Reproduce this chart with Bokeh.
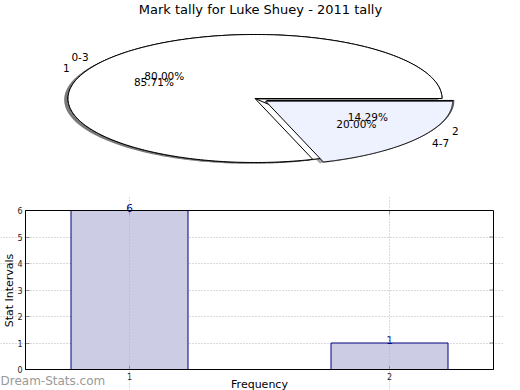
import numpy as np
from bokeh.plotting import figure
from bokeh.models import Range1d, Label, LabelSet, FixedTicker, ColumnDataSource, BoxAnnotation
from bokeh.layouts import column
from bokeh.embed import file_html
from bokeh.resources import INLINE
from bokeh.core.properties import value

# ---------------- data ----------------
title_text = "Mark tally for Luke Shuey - 2011 tally"
pie1_labels = ["0-3", "4-7"]
pie1_values = [4, 1]
pie2_labels = ["1", "2"]
pie2_values = [6, 1]
slice_colors = ["#ffffff", "#eef2ff"]
explode = [0.0, 0.07]

bar_x = [1, 2]
bar_values = [6, 1]
x_ticks = [1, 2]
y_ticks = [0, 1, 2, 3, 4, 5, 6]
grid_y = [1, 2, 3, 4, 5]
x_lim = (0.6, 2.4)
y_lim = (0, 6)
x_label = "Frequency"
y_label = "Stat Intervals"
watermark = "Dream-Stats.com"

FONT = "DejaVu Sans"

# ---------------- layout constants (px) ----------------
W = 504
PIE_H = 196
BAR_H = 194
RX = 187.0                    # pie: px per data unit (x)
RY = 64.0                     # pie: px per data unit (y)
CX = 254.5                    # pie centre
CY = 98.0
BOX_L, BOX_R = 25, 493        # bar chart box, page px
BOX_T, BOX_B = 210, 369

# ---------------- pie ----------------
pie = figure(width=W, height=PIE_H, output_backend="svg", toolbar_location=None,
             x_range=Range1d(-CX / RX, (W - CX) / RX),
             y_range=Range1d(-(PIE_H - CY) / RY, CY / RY),
             x_axis_location=None, y_axis_location=None,
             min_border=0, outline_line_color=None)
pie.grid.visible = False


def wedge_geometry(values, expl):
    vals = np.asarray(values, dtype=float)
    frac = vals / vals.sum()
    bounds = np.concatenate([[0.0], np.cumsum(frac)]) * 2 * np.pi
    xs, ys, mids, offs = [], [], [], []
    for i in range(len(vals)):
        a0, a1 = bounds[i], bounds[i + 1]
        mid = 0.5 * (a0 + a1)
        ox, oy = expl[i] * np.cos(mid), expl[i] * np.sin(mid)
        t = np.linspace(a0, a1, 240)
        xs.append(np.concatenate([[ox], ox + np.cos(t), [ox]]))
        ys.append(np.concatenate([[oy], oy + np.sin(t), [oy]]))
        mids.append(mid)
        offs.append((ox, oy))
    return xs, ys, mids, offs, frac


geo2 = wedge_geometry(pie2_values, explode)
geo1 = wedge_geometry(pie1_values, explode)

for xs, ys, _, _, _ in (geo2, geo1):
    pie.patches(xs=[x - 0.02 for x in xs], ys=[y - 0.02 for y in ys],
                fill_color="#4d4d4d", fill_alpha=0.5, line_color=None)

for xs, ys, _, _, _ in (geo2, geo1):
    pie.patches(xs=xs, ys=ys, fill_color=slice_colors, line_color="black", line_width=1)

for (xs, ys, mids, offs, frac), labels in ((geo2, pie2_labels), (geo1, pie1_labels)):
    lx_l, ly_l, lt_l, lx_r, ly_r, lt_r = [], [], [], [], [], []
    px, py, pt = [], [], []
    for m, (ox, oy), lab, f in zip(mids, offs, labels, frac):
        x = ox + 1.1 * np.cos(m)
        y = oy + 1.1 * np.sin(m)
        if x < 0:
            lx_r.append(x); ly_r.append(y); lt_r.append(lab)
        else:
            lx_l.append(x); ly_l.append(y); lt_l.append(lab)
        px.append(ox + 0.6 * np.cos(m))
        py.append(oy + 0.6 * np.sin(m))
        pt.append("%.2f%%" % (f * 100))
    for xx, yy, tt, al in ((lx_r, ly_r, lt_r, "right"), (lx_l, ly_l, lt_l, "left"),
                           (px, py, pt, "center")):
        pie.text(x=xx, y=yy, text=tt, text_align=al, text_baseline="middle",
                 text_font=value(FONT), text_font_size="10.5px", text_color="black")

pie.add_layout(Label(x=260, y=PIE_H - 1, x_units="screen", y_units="screen",
                     text=title_text, text_align="center", text_baseline="top",
                     text_font=FONT, text_font_size="13px", text_color="black"))

# ---------------- bar chart ----------------
sx = (BOX_R - BOX_L) / (x_lim[1] - x_lim[0])
sy = (BOX_B - BOX_T) / (y_lim[1] - y_lim[0])
top_px = PIE_H                 # page y of bar figure top
bar = figure(width=W, height=BAR_H, output_backend="svg", toolbar_location=None,
             x_range=Range1d(x_lim[0] - BOX_L / sx, x_lim[1] + (W - BOX_R) / sx),
             y_range=Range1d(y_lim[0] - (top_px + BAR_H - BOX_B) / sy,
                             y_lim[1] + (BOX_T - top_px) / sy),
             min_border=0, outline_line_color=None)

src = ColumnDataSource(dict(x=bar_x, top=bar_values, lab=[str(v) for v in bar_values]))
bar.vbar(x="x", top="top", width=0.45, source=src, fill_color="#ccccE5", line_color="#000080",
         line_width=1)

xa, ya = bar.xaxis[0], bar.yaxis[0]
xa.fixed_location = y_lim[0]
ya.fixed_location = x_lim[0]
xa.bounds = x_lim
ya.bounds = y_lim
xa.ticker = FixedTicker(ticks=x_ticks)
ya.ticker = FixedTicker(ticks=y_ticks)
for ax in (xa, ya):
    ax.major_tick_in = 4
    ax.major_tick_out = 0
    ax.minor_tick_in = 0
    ax.minor_tick_out = 0
    ax.major_tick_line_color = "#888888"
    ax.axis_line_color = "black"
    ax.major_label_text_font = FONT
    ax.major_label_text_font_size = "8px"
    ax.major_label_text_color = "#222222"
    ax.major_label_standoff = 3

bar.xgrid.ticker = FixedTicker(ticks=x_ticks)
bar.ygrid.ticker = FixedTicker(ticks=grid_y)
bar.xgrid[0].bounds = y_lim
bar.ygrid[0].bounds = x_lim
for g in (bar.xgrid[0], bar.ygrid[0]):
    g.grid_line_color = "#b4b4b4"
    g.grid_line_dash = "1 2"
    g.grid_line_width = 1
bar.xgrid[0].level = "overlay"

# inward tick marks on the right and top edges of the box
bar.ray(x=[x_lim[1]] * len(grid_y), y=grid_y, length=4, length_units="screen", angle=np.pi,
        line_color="#888888", line_width=1)
bar.ray(x=x_ticks, y=[y_lim[1]] * len(x_ticks), length=4, length_units="screen",
        angle=-np.pi / 2, line_color="#888888", line_width=1)

bar.add_layout(BoxAnnotation(left=x_lim[0], right=x_lim[1], bottom=y_lim[0], top=y_lim[1],
                             fill_alpha=0, line_color="black", line_alpha=1, line_width=1,
                             level="overlay"))

bar.add_layout(LabelSet(x="x", y="top", text="lab", source=src, text_align="center",
                        text_baseline="bottom", text_font=value(FONT),
                        text_font_size="10.5px", text_color="#000080", y_offset=-1))

bar.add_layout(Label(x=9, y=top_px + BAR_H - 290, x_units="screen", y_units="screen",
                     angle=np.pi / 2, text=y_label, text_align="center", text_baseline="middle",
                     text_font=FONT, text_font_size="11px", text_color="black"))
bar.add_layout(Label(x=259, y=top_px + BAR_H - 377, x_units="screen", y_units="screen",
                     text=x_label, text_align="center", text_baseline="top",
                     text_font=FONT, text_font_size="11px", text_color="black"))
bar.add_layout(Label(x=0, y=top_px + BAR_H - 373, x_units="screen", y_units="screen",
                     text=watermark, text_align="left", text_baseline="top",
                     text_font=FONT, text_font_size="12px", text_color="#999999"))

layout = column(pie, bar, spacing=0)
open("out.html", "w").write(file_html(layout, INLINE))
